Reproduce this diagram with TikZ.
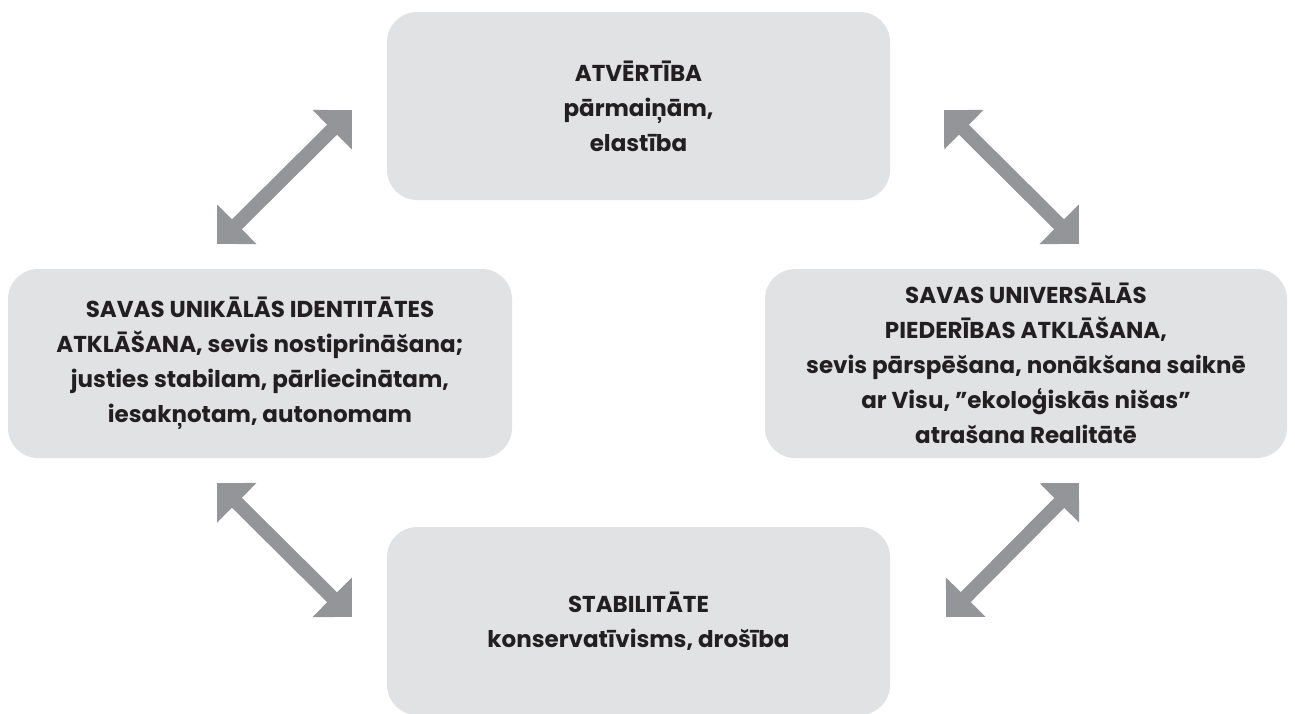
\documentclass[tikz,border=0pt]{standalone}
\usepackage{fontspec}
\setmainfont{Poppins}
\usepackage{tikz}
\usetikzlibrary{arrows.meta, positioning}
\definecolor{boxgray}{RGB}{225,226,228}
\definecolor{arrowgray}{RGB}{147,149,152}
\definecolor{ink}{RGB}{35,31,32}

\tikzset{
  idea/.style={fill=boxgray, rounded corners=15pt, align=center, text=ink,
    font=\fontsize{11.5}{17.5}\selectfont\bfseries, inner sep=0pt},
  swap/.style={draw=arrowgray, line width=7pt,
    {Triangle[length=14pt,width=27pt]}-{Triangle[length=14pt,width=27pt]}}
}

\begin{document}
\begin{tikzpicture}[x=0.5pt, y=-0.5pt]
  \useasboundingbox (0,0) rectangle (1295,713);
  % four boxes
  \node[idea, minimum width=251.5pt, minimum height=94pt] (open) at (638.5,106)
    {ATVĒRTĪBA\\pārmaiņām,\\elastība};
  \node[idea, minimum width=252pt, minimum height=94.5pt] (self) at (260,363.5)
    {SAVAS UNIKĀLĀS IDENTITĀTES\\ATKLĀŠANA, sevis nostiprināšana;\\justies stabilam, pārliecinātam,\\iesakņotam, autonomam};
  \node[idea, minimum width=261pt, minimum height=94.5pt] (whole) at (1026,363.5)
    {SAVAS UNIVERSĀLĀS\\PIEDERĪBAS ATKLĀŠANA,\\sevis pārspēšana, nonākšana saiknē\\ar Visu, "ekoloģiskās nišas"\\atrašana Realitātē};
  \node[idea, minimum width=251.5pt, minimum height=94pt] (stable) at (638.5,621)
    {STABILITĀTE\\konservatīvisms, drošība};
  % arrow ends
  \coordinate (a1) at (217,244);  \coordinate (a2) at (352,110);
  \coordinate (b1) at (944,110);  \coordinate (b2) at (1079,244);
  \coordinate (c1) at (217,483);  \coordinate (c2) at (352,617);
  \coordinate (d1) at (946,617);  \coordinate (d2) at (1079,483);
  % connectors
  \draw[swap] (a1) -- (a2);
  \draw[swap] (b1) -- (b2);
  \draw[swap] (c1) -- (c2);
  \draw[swap] (d1) -- (d2);
\end{tikzpicture}
\end{document}
